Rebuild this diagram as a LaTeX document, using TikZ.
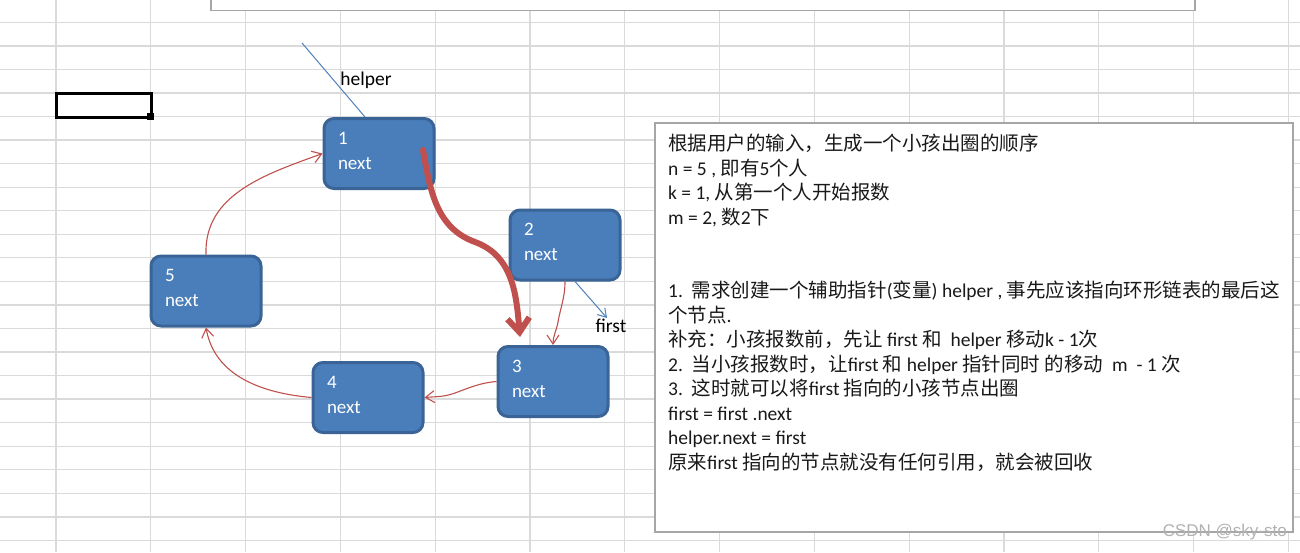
\documentclass[tikz,border=0pt]{standalone}
\usepackage{fontspec}
\setmainfont{Carlito}
\newfontfamily\cjk{Noto Sans CJK SC}
\newfontfamily\wmfont{Liberation Sans}
\usetikzlibrary{arrows.meta,calc}
\definecolor{nodefill}{HTML}{4A7EBB}
\definecolor{nodeborder}{HTML}{3A6495}
\definecolor{redline}{HTML}{C0504D}
\definecolor{blueline}{HTML}{4F81BD}
\definecolor{gridgray}{HTML}{DADADA}
\definecolor{boxgray}{HTML}{A6A6A6}
\newcommand\zh[1]{{\cjk #1}}
\newcommand\lowstrut{\rule[-6pt]{0pt}{6pt}}
\begin{document}
\begin{tikzpicture}[x=1pt,y=1pt,
  listnode/.style={draw=nodeborder, fill=nodefill, line width=3pt, rounded corners=10pt,
    minimum width=110pt, minimum height=70pt, text width=82pt, align=left, text=white,
    font=\fontsize{19}{25}\selectfont, inner sep=0pt},
  redarrow/.style={draw=redline, line width=1.1pt, -{Straight Barb[length=9pt,width=12pt]}},
  bluearrow/.style={draw=blueline, line width=1pt},
  gridline/.style={draw=gridgray, line width=1.3pt},
  lbl/.style={font=\fontsize{19.5}{24}\selectfont, inner sep=1pt, text=black}
]
\useasboundingbox (0,0) rectangle (1300,-552);
\fill[white] (0,0) rectangle (1300,-552);
\begin{scope}
  \clip (0,0) rectangle (1300,-552);
  \foreach \i in {0,...,22} \draw[gridline] (0,{-22.3-23.55*\i}) -- (1300,{-22.3-23.55*\i});
  \foreach \i in {0,...,13} \draw[gridline] ({56+94.8*\i},0) -- ({56+94.8*\i},-552);
\end{scope}
% top box
\draw[boxgray, line width=1.2pt, fill=white] (211,3) rectangle (1195,-10.5);
% selected cell
\draw[line width=3pt] (56,-93) rectangle (151,-117);
\fill[black] (147,-113) rectangle (154,-120);
% description box
\draw[boxgray, line width=1.3pt, fill=white] (655,-123) rectangle (1293,-532);
\node (desc) [anchor=north west, align=left, inner sep=0pt, text=black!90, font=\fontsize{19.5}{24.5}\selectfont] at (668,-134) {%
\zh{根据用户的输入，生成一个小孩出圈的顺序}\\
n = 5 , \zh{即有}5\zh{个人}\\
k = 1, \zh{从第一个人开始报数}\\
m = 2, \zh{数}2\zh{下}\\[49pt]
1.\ \ \zh{需求创建一个辅助指针}(\zh{变量}) helper , \zh{事先应该指向环形链表的最后这}\\
\zh{个节点}.\\
\zh{补充：小孩报数前，先让} first \zh{和} \ helper \zh{移动}k - 1\zh{次}\\
2.\ \ \zh{当小孩报数时，让}first \zh{和} helper \zh{指针同时} \zh{的移动}\ \ m\ \ - 1 \zh{次}\\
3.\ \ \zh{这时就可以将}first \zh{指向的小孩节点出圈}\\
first = first .next\\
helper.next = first\\
\zh{原来}first \zh{指向的节点就没有任何引用，就会被回收}};
% list nodes
\node (n1) [listnode] at (379,-153.5) {1\\next\lowstrut};
\node (n2) [listnode] at (565,-245) {2\\next\lowstrut};
\node (n3) [listnode] at (553,-381.5) {3\\next\lowstrut};
\node (n4) [listnode] at (368,-397.5) {4\\next\lowstrut};
\node (n5) [listnode] at (206,-291) {5\\next\lowstrut};
% labels
\node (lhelper) [lbl] at (366,-80) {helper};
\node (lfirst) [lbl] at (611,-326) {first};
% helper pointer
\coordinate (hs) at (302,-43);
\draw[bluearrow] (hs) -- ($(n1.north)+(-14,0)$);
% first pointer
\draw[bluearrow, -{Straight Barb[length=8pt,width=10pt]}] ($(n2.south)+(10,0)$) -- ($(lfirst.north)+(-4,0)$);
% next links
\draw[redarrow] (n5.north) to[out=92,in=200] (n1.west);
\draw[redarrow] (n2.south) to[out=-90,in=80] (558,-322) to[out=-100,in=90] (n3.north);
\draw[redarrow] (n3.west) to[out=185,in=20] (455,-393) to[out=200,in=5] (n4.east);
\draw[redarrow] (n4.west) to[out=175,in=-80] (n5.south);
% thick move arrow
\coordinate (ts) at (423,-150);
\coordinate (te) at (520,-337);
\draw[redline, line width=6pt, line cap=round, line join=round, -{Straight Barb[length=14pt,width=22pt]}]
  (ts) to[out=-80,in=160] (475,-242) to[out=-20,in=95] (te);
% watermark
\node (wm) [anchor=east, inner sep=0pt, text=gray!60, font=\wmfont\fontsize{17}{20}\selectfont] at (1287,-532) {CSDN @sky-sto};
\end{tikzpicture}
\end{document}
